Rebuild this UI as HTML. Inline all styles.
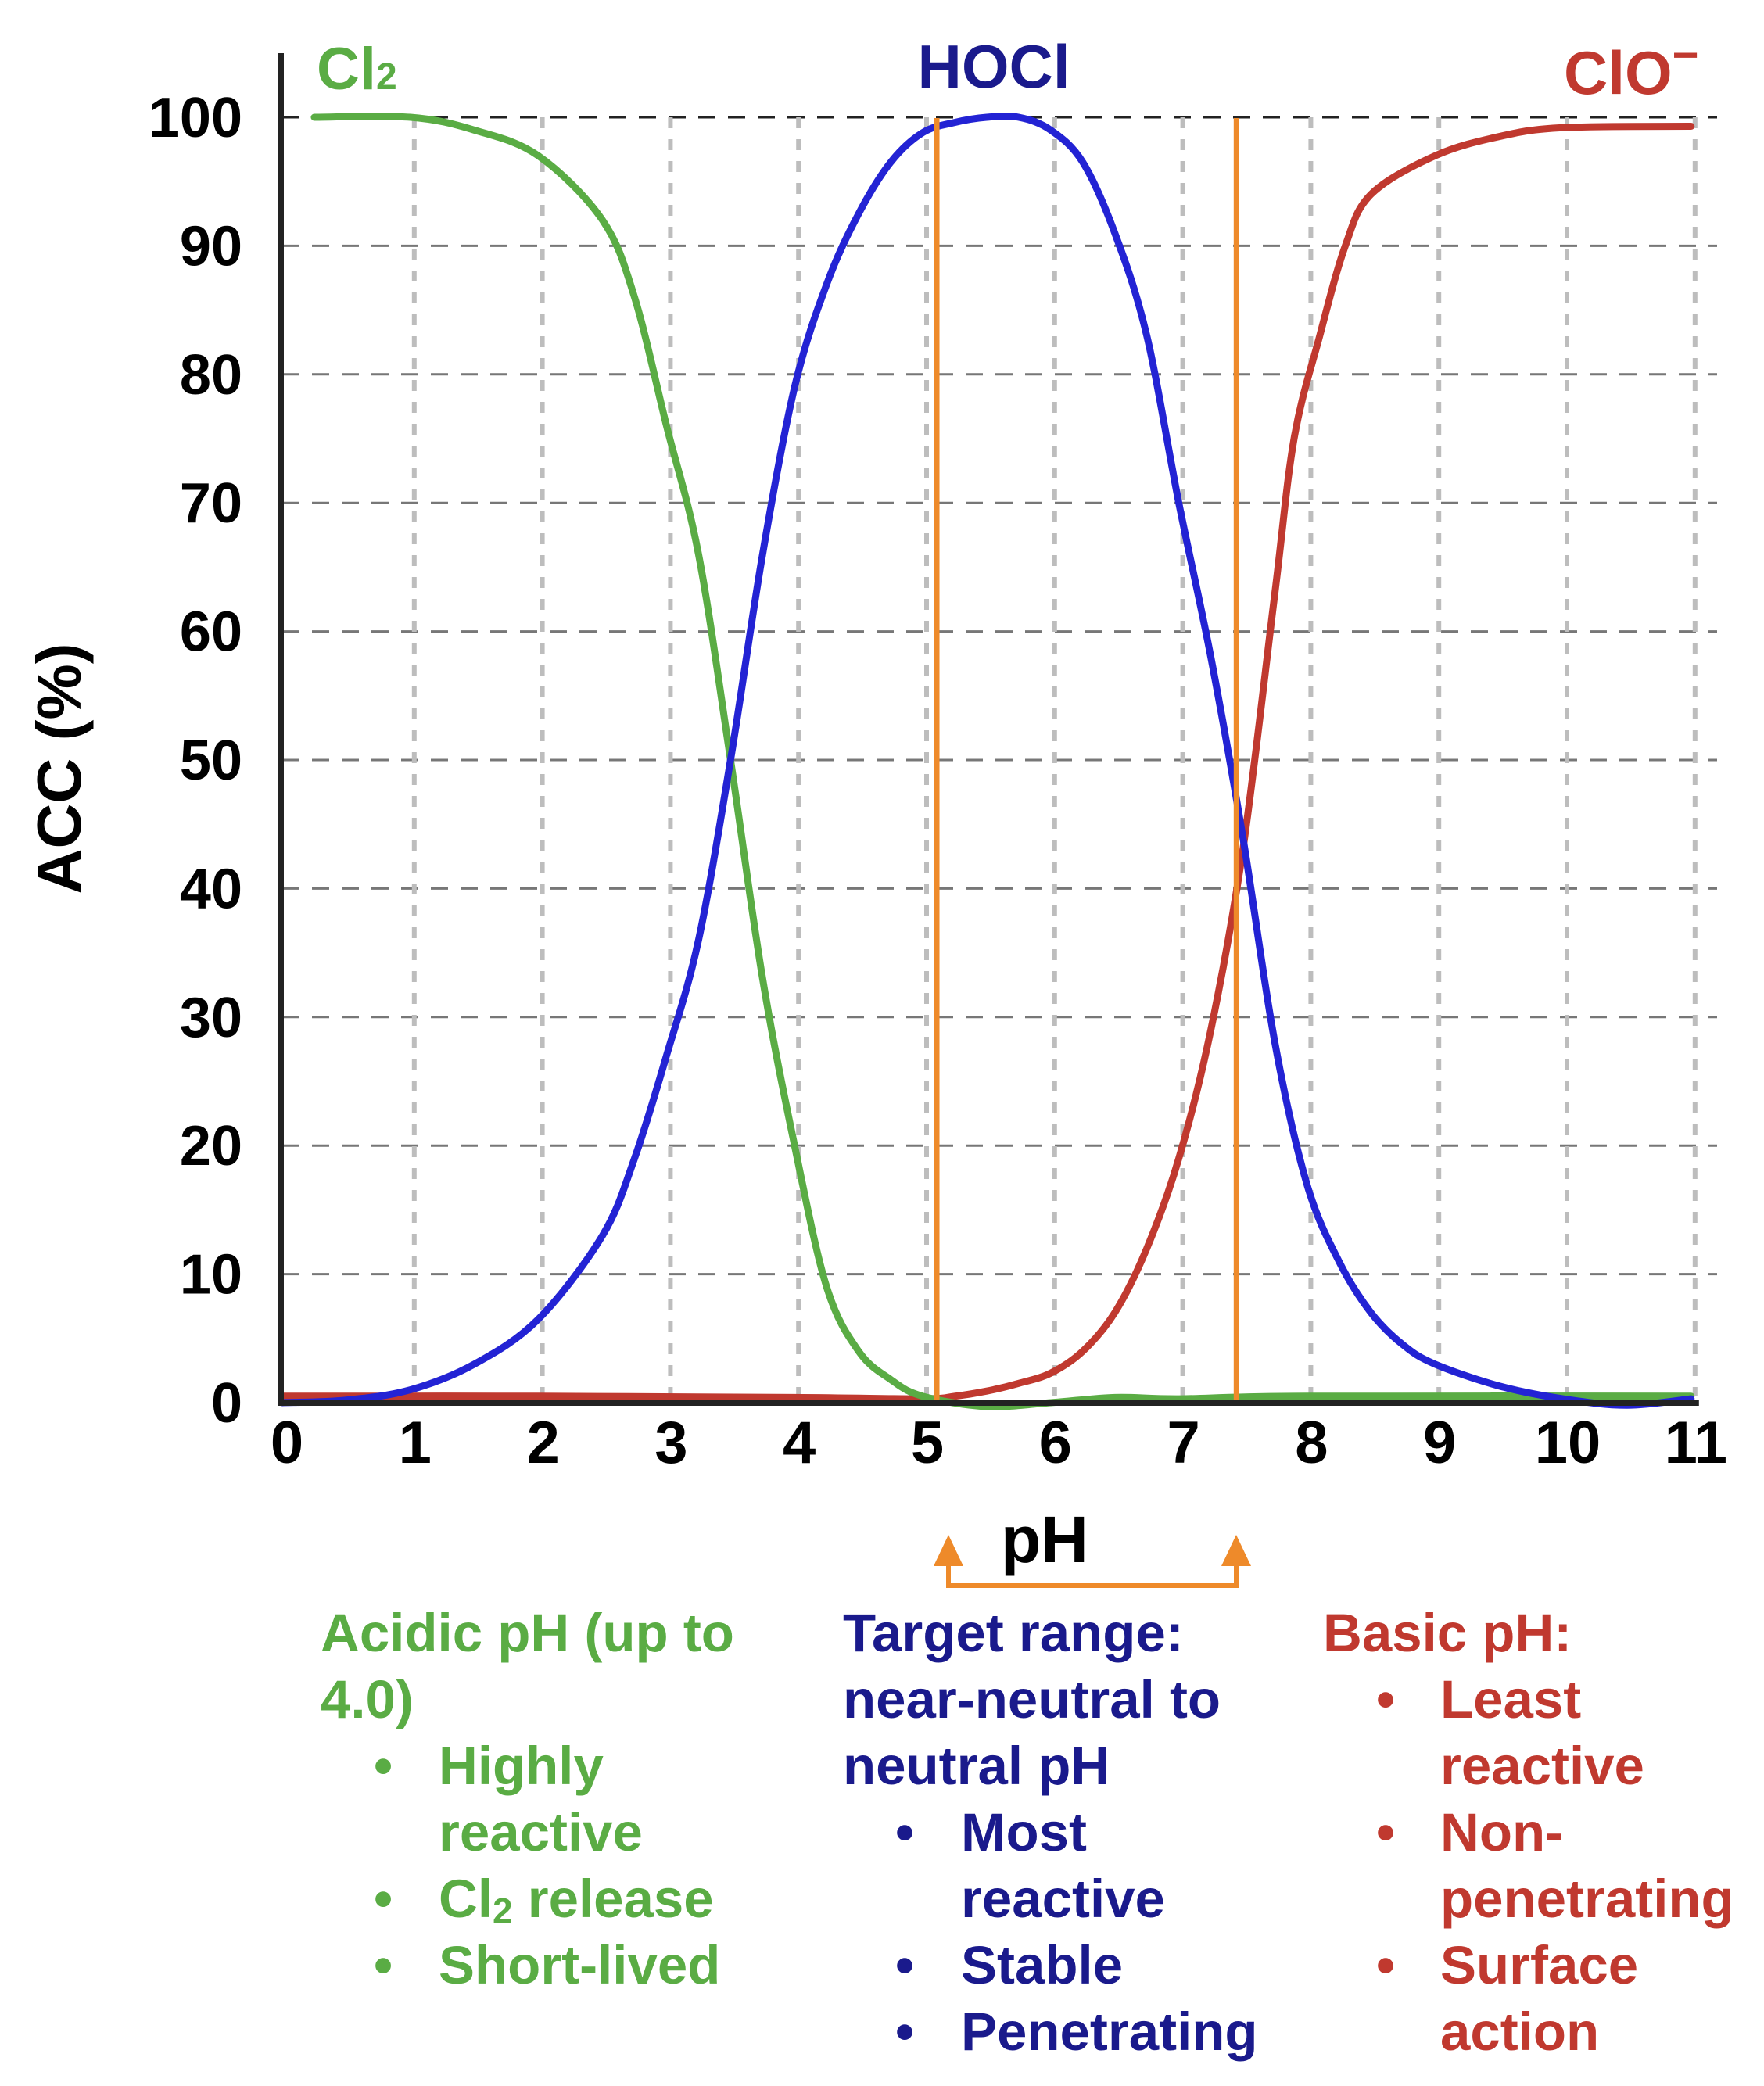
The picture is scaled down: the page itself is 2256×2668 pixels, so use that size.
<!DOCTYPE html>
<html><head><meta charset="utf-8"><style>
html,body{margin:0;padding:0;background:#fff}
svg{display:block}
text{font-family:"Liberation Sans",Arial,sans-serif;font-weight:bold}
</style></head><body>
<svg id="chart" width="2256" height="2668" viewBox="0 0 2256 2668" xmlns="http://www.w3.org/2000/svg">
<g id="grid"></g>
<g id="curves"></g>
<g id="axes"></g>
<text transform="translate(103,983) rotate(-90)" text-anchor="middle" font-size="80" textLength="321" lengthAdjust="spacingAndGlyphs" fill="#000">ACC (%)</text>
<text x="1336" y="1998" text-anchor="middle" font-size="84" fill="#000">pH</text>
<text x="405" y="114" font-size="76" fill="#5aac44">Cl<tspan font-size="48">2</tspan></text>
<text x="1271" y="112" text-anchor="middle" font-size="78" fill="#1a1a8c">HOCl</text>
<text x="2000" y="120" font-size="78" fill="#c0392f">ClO<tspan font-size="58" dy="-30">−</tspan></text>
<g fill="none" stroke="#ee8a2a" stroke-width="6">
<polyline points="1213,2003 1213,2028 1581,2028 1581,2003"/>
<polygon points="1213,1963 1194,2003 1232,2003" fill="#ee8a2a" stroke="none"/>
<polygon points="1581,1963 1562,2003 1600,2003" fill="#ee8a2a" stroke="none"/>
</g>
<g font-size="69" fill="#5aac44">
<text x="410" y="2112">Acidic pH (up to</text>
<text x="410" y="2197">4.0)</text>
<text x="478" y="2282">•</text><text x="561" y="2282">Highly</text>
<text x="561" y="2367">reactive</text>
<text x="478" y="2452">•</text><text x="561" y="2452">Cl<tspan font-size="46" dy="8">2</tspan><tspan dy="-8"> release</tspan></text>
<text x="478" y="2537">•</text><text x="561" y="2537">Short-lived</text>
</g>
<g font-size="69" fill="#1a1a8c">
<text x="1078" y="2112">Target range:</text>
<text x="1078" y="2197">near-neutral to</text>
<text x="1078" y="2282">neutral pH</text>
<text x="1145" y="2367">•</text><text x="1229" y="2367">Most</text>
<text x="1229" y="2452">reactive</text>
<text x="1145" y="2537">•</text><text x="1229" y="2537">Stable</text>
<text x="1145" y="2622">•</text><text x="1229" y="2622">Penetrating</text>
</g>
<g font-size="69" fill="#c0392f">
<text x="1692" y="2112">Basic pH:</text>
<text x="1760" y="2197">•</text><text x="1842" y="2197">Least</text>
<text x="1842" y="2282">reactive</text>
<text x="1760" y="2367">•</text><text x="1842" y="2367">Non-</text>
<text x="1842" y="2452">penetrating</text>
<text x="1760" y="2537">•</text><text x="1842" y="2537">Surface</text>
<text x="1842" y="2622">action</text>
</g>
</svg>
<script>
const xTicks = [0,1,2,3,4,5,6,7,8,9,10,11];
const yTicks = [0,10,20,30,40,50,60,70,80,90,100];
const targetRange = [5.11, 7.45];
const cl2X = [0.25,1,1.5,2,2.5,2.75,3,3.25,3.5,3.75,4,4.25,4.5,4.75,5,5.5,6,6.5,7,8,11];
const cl2Y = [100,100,99,97,92,86,76,66,50,33,20,9,4,1.8,0.5,-0.3,0,0.4,0.3,0.5,0.5];
const hoclX = [0,0.5,1,1.5,2,2.5,2.75,3,3.25,3.5,3.75,4,4.25,4.5,4.75,5,5.25,5.5,5.75,6,6.25,6.5,6.75,7,7.25,7.5,7.75,8,8.25,8.5,8.75,9,9.5,10,10.5,11];
const hoclY = [0,0.2,1,3,6.5,13,19,27,36,50,66,79,87,92.5,96.5,98.8,99.6,100,100,99,96.5,91,83,70,58,44,28,17,11,7,4.5,3,1.3,0.3,-0.2,0.3];
const cloX = [0,2,4,5,5.25,5.5,5.75,6,6.25,6.5,6.75,7,7.25,7.5,7.75,7.9,8.1,8.3,8.5,9,9.5,10,11];
const cloY = [0.5,0.5,0.4,0.3,0.5,0.9,1.5,2.3,4,7,12,19,29,43,63,75,83,90,94,97,98.5,99.2,99.3];

const NS='http://www.w3.org/2000/svg';
const X0=361, XS=163.8, Y0=1794, YS=16.44;
function xs(v){return X0+v*XS;}
function ys(v){return Y0-v*YS;}
function mk(tag,parent){const e=document.createElementNS(NS,tag);parent.appendChild(e);return e;}
const grid=document.getElementById('grid'), axes=document.getElementById('axes'), curves=document.getElementById('curves');

yTicks.forEach(t=>{
  if(t===0) return;
  const l=mk('line',grid);
  
  
  l.setAttribute('x1',X0);l.setAttribute('x2',2196);l.setAttribute('y1',ys(t));l.setAttribute('y2',ys(t));
  l.setAttribute('stroke',t===100?'#222':'#777');l.setAttribute('stroke-width',3);l.setAttribute('stroke-dasharray','22 16');
});
xTicks.forEach(t=>{
  if(t===0) return;
  const l=mk('line',grid);
  
  
  l.setAttribute('x1',xs(t)+5);l.setAttribute('x2',xs(t)+5);l.setAttribute('y1',ys(100));l.setAttribute('y2',Y0-8);
  l.setAttribute('stroke','#bdbdbd');l.setAttribute('stroke-width',6);l.setAttribute('stroke-dasharray','14 14');
});

function smooth(xa,ya){
  const p=xa.map((x,i)=>[xs(x),ys(ya[i])]);
  let d='M'+p[0][0]+','+p[0][1];
  for(let i=0;i<p.length-1;i++){
    const a=p[Math.max(0,i-1)],b=p[i],c=p[i+1],e=p[Math.min(p.length-1,i+2)];
    const c1=[b[0]+(c[0]-a[0])/6,b[1]+(c[1]-a[1])/6];
    const c2=[c[0]-(e[0]-b[0])/6,c[1]-(e[1]-b[1])/6];
    d+=' C'+c1[0].toFixed(1)+','+c1[1].toFixed(1)+' '+c2[0].toFixed(1)+','+c2[1].toFixed(1)+' '+c[0].toFixed(1)+','+c[1].toFixed(1);
  }
  return d;
}
function series(xa,ya,col,name){
  const p=mk('path',curves);
  
  
  p.setAttribute('d',smooth(xa,ya));p.setAttribute('fill','none');p.setAttribute('stroke',col);
  p.setAttribute('stroke-width',9);p.setAttribute('stroke-linecap','round');p.setAttribute('stroke-linejoin','round');
}
series(cloX,cloY,'#c0392f','clo-line');
series(cl2X,cl2Y,'#5aac44','cl2-line');
series(hoclX,hoclY,'#2323d4','hocl-line');

targetRange.forEach(v=>{
  const l=mk('line',curves);
  
  
  l.setAttribute('x1',xs(v));l.setAttribute('x2',xs(v));l.setAttribute('y1',ys(100)+1);l.setAttribute('y2',Y0);
  l.setAttribute('stroke','#ee8a2a');l.setAttribute('stroke-width',7);
});

const ax=mk('path',axes);


ax.setAttribute('d','M'+(X0-2)+',68 L'+(X0-2)+','+Y0+' L'+(xs(11)+10)+','+Y0);
ax.setAttribute('fill','none');ax.setAttribute('stroke','#222');ax.setAttribute('stroke-width',8);

yTicks.forEach(t=>{
  const s=mk('text',axes);
  
  
  s.setAttribute('x',310);s.setAttribute('y',ys(t)+25);s.setAttribute('text-anchor','end');s.setAttribute('font-size',72);
  s.textContent=t;
});
xTicks.forEach(t=>{
  const s=mk('text',axes);
  
  
  s.setAttribute('x',xs(t)+6);s.setAttribute('y',1871);s.setAttribute('text-anchor','middle');s.setAttribute('font-size',76);
  s.textContent=t;
});
</script>
</body></html>
